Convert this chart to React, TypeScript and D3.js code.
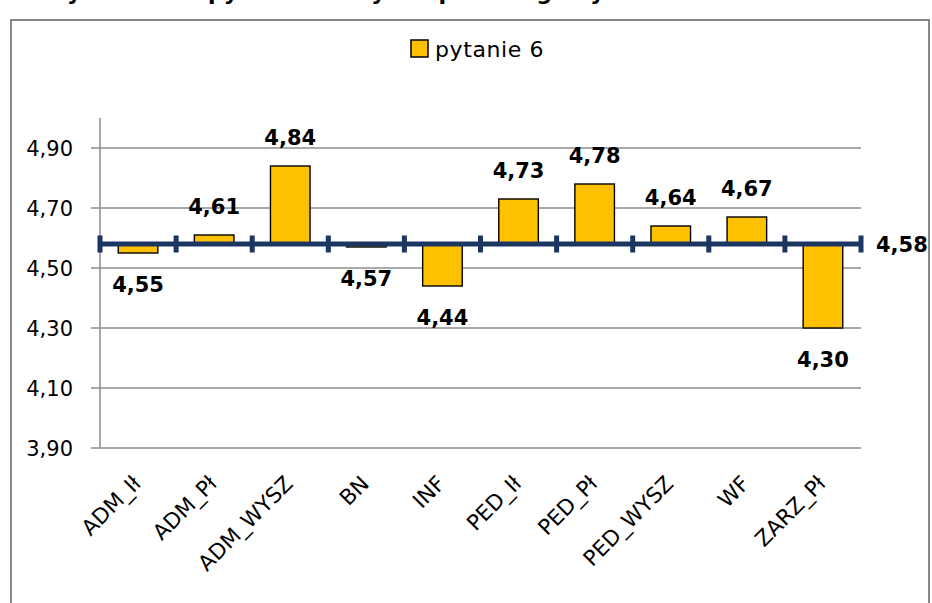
import React from "react";
import * as d3 from "d3";

const categories = ["ADM_Ił", "ADM_Pł", "ADM_WYSZ", "BN", "INF", "PED_Ił", "PED_Pł", "PED_WYSZ", "WF", "ZARZ_Pł"];
const values = [4.55, 4.61, 4.84, 4.57, 4.44, 4.73, 4.78, 4.64, 4.67, 4.3];
const meanValue = 4.58;
const yTicks = [3.9, 4.1, 4.3, 4.5, 4.7, 4.9];
const seriesName = "pytanie 6";
const titleText = "Oceny średnie – pytanie 6 – wyniki poszczególnych kierunków studiów";

const W = 932;
const H = 603;
const FONT = "'DejaVu Sans', sans-serif";

export default function App() {
  const x = d3.scaleBand<string>().domain(categories).range([100, 861]).padding(0);
  const y = d3.scaleLinear().domain([3.9, 5.0]).range([448, 118]);
  const fmt = (v: number) => d3.format(".2f")(v).replace(".", ",");
  const bw = x.bandwidth() * 0.52;
  const yBase = y(meanValue);
  const boundaries = d3.range(categories.length + 1).map((i) => 100 + i * x.step());

  return (
    <svg width={W} height={H} style={{ position: "absolute", left: 0, top: 0, background: "#fff" }}>
      <rect x={0} y={0} width={W} height={H} fill="#fff" />
      <text x={440} y={0} textAnchor="middle" fontFamily={FONT} fontWeight="bold" fontSize={22} fill="#000">
        {titleText}
      </text>
      <rect x={11} y={20} width={918} height={620} fill="none" stroke="#878787" strokeWidth={2} />

      {/* legend */}
      <rect x={411} y={40} width={17} height={17} fill="#FFC000" stroke="#000" strokeWidth={1.5} />
      <text x={435} y={56.5} fontFamily={FONT} fontSize={22} letterSpacing={0.6} fill="#000">
        {seriesName}
      </text>

      {/* grid + y axis */}
      {yTicks.map((t) => (
        <g key={t}>
          <line x1={91} x2={861} y1={y(t)} y2={y(t)} stroke="#8c8c8c" strokeWidth={1.5} />
          <text x={73} y={y(t) + 7.5} textAnchor="end" fontFamily={FONT} fontSize={21} fill="#000">
            {fmt(t)}
          </text>
        </g>
      ))}
      <line x1={100} x2={100} y1={118} y2={448} stroke="#8c8c8c" strokeWidth={1.5} />

      {/* bars */}
      {categories.map((c, i) => {
        const v = values[i];
        const cx = (x(c) as number) + x.bandwidth() / 2;
        const yv = y(v);
        const top = Math.min(yv, yBase);
        const h = Math.abs(yv - yBase);
        return (
          <rect key={c} x={cx - bw / 2} y={top} width={bw} height={Math.max(h, 1)} fill="#FFC000" stroke="#000" strokeWidth={1.4} />
        );
      })}

      {/* mean line */}
      <line x1={boundaries[0]} x2={boundaries[boundaries.length - 1] + 2} y1={yBase} y2={yBase} stroke="#1B3660" strokeWidth={5} />
      {boundaries.map((bx, i) => (
        <rect key={i} x={bx - 2.5} y={yBase - 8.5} width={5} height={17} fill="#1B3660" />
      ))}
      <text x={876} y={yBase + 7.5} fontFamily={FONT} fontWeight="bold" fontSize={21} fill="#000">
        {fmt(meanValue)}
      </text>

      {/* value labels */}
      {categories.map((c, i) => {
        const v = values[i];
        const cx = (x(c) as number) + x.bandwidth() / 2;
        const yv = y(v);
        const ly = v >= meanValue ? yv - 21 : yv + 39;
        return (
          <text key={c} x={cx} y={ly} textAnchor="middle" fontFamily={FONT} fontWeight="bold" fontSize={21} fill="#000">
            {fmt(v)}
          </text>
        );
      })}

      {/* x labels */}
      {categories.map((c) => {
        const cx = (x(c) as number) + x.bandwidth() / 2;
        return (
          <text key={c} transform={`translate(${cx + 4},${485}) rotate(-45)`} textAnchor="end" fontFamily={FONT} fontSize={21.5} fill="#000">
            {c}
          </text>
        );
      })}
    </svg>
  );
}
